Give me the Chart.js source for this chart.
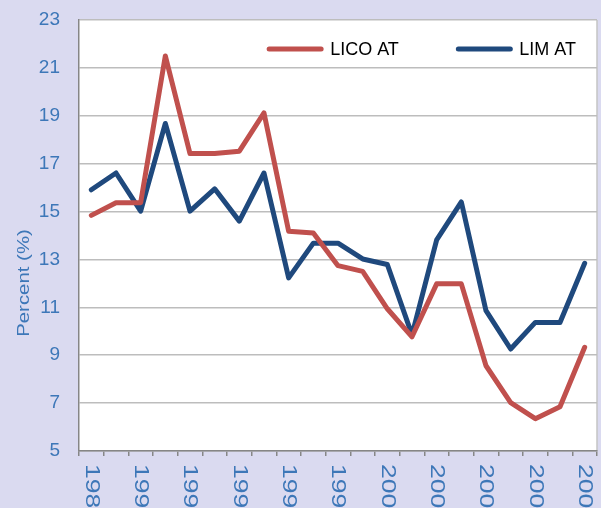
<!DOCTYPE html>
<html>
<head>
<meta charset="utf-8">
<script src="https://cdn.jsdelivr.net/npm/chart.js@4/dist/chart.umd.min.js"></script>
<style>
  html, body { margin: 0; padding: 0; background: #dadaf0; }
  #wrap { width: 601px; height: 508px; }
</style>
</head>
<body>
<div id="wrap"><canvas id="chart" width="601" height="508"></canvas></div>
<script>
// values
var years = ['1989', '1990', '1991', '1992', '1993', '1994', '1995', '1996', '1997', '1998', '1999',
             '2000', '2001', '2002', '2003', '2004', '2005', '2006', '2007', '2008', '2009'];
var licoAT = [14.84, 15.37, 15.37, 21.5, 17.42, 17.42, 17.52, 19.12, 14.18, 14.1, 12.74,
              12.5, 10.94, 9.77, 11.98, 11.98, 8.56, 7.02, 6.35, 6.85, 9.33];
var limAT = [15.91, 16.61, 15.02, 18.68, 15.02, 15.95, 14.6, 16.61, 12.23, 13.68, 13.68,
             13.02, 12.79, 9.85, 13.82, 15.4, 10.86, 9.26, 10.37, 10.37, 12.84];
var yTicks = [5, 7, 9, 11, 13, 15, 17, 19, 21, 23];
var yTitle = 'Percent (%)';

var FONT = '"Liberation Sans", Arial, sans-serif';
var TEXT_BLUE = '#3d77b8';

// plot background, rotated year labels, axis title and the legend row
var extras = {
    id: 'extras',
    beforeDraw: function (chart) {
        var a = chart.chartArea, ctx = chart.ctx;
        ctx.save();
        ctx.fillStyle = '#ffffff';
        ctx.fillRect(a.left, a.top, a.right - a.left, a.bottom - a.top);
        ctx.strokeStyle = '#c4c4c4';
        ctx.lineWidth = 1.5;
        ctx.beginPath();
        ctx.moveTo(a.right, a.top);
        ctx.lineTo(a.right, a.bottom);
        ctx.stroke();
        ctx.restore();
    },
    afterDraw: function (chart) {
        var ctx = chart.ctx, a = chart.chartArea;
        var xs = chart.scales.x;
        ctx.save();

        // year labels, every other one, reading top to bottom
        // (the rotated text in the original is drawn a bit stretched)
        ctx.fillStyle = TEXT_BLUE;
        ctx.font = '21px ' + FONT;
        ctx.textAlign = 'left';
        ctx.textBaseline = 'middle';
        for (var i = 0; i < years.length; i += 2) {
            ctx.save();
            ctx.translate(xs.getPixelForTick(i), a.bottom + 13);
            ctx.rotate(Math.PI / 2);
            ctx.scale(1.26, 1);
            ctx.fillText(years[i], 0, 0);
            ctx.restore();
        }

        // y axis title
        ctx.save();
        ctx.translate(24, 283);
        ctx.rotate(-Math.PI / 2);
        ctx.scale(1.2, 1);
        ctx.textAlign = 'center';
        ctx.font = '17px ' + FONT;
        ctx.fillText(yTitle, 0, 0);
        ctx.restore();

        // legend, right aligned inside the plot
        ctx.font = '18px ' + FONT;
        ctx.textBaseline = 'middle';
        var ly = a.top + 29;
        var end = a.right - 21;
        var ds = chart.data.datasets;
        for (var j = ds.length - 1; j >= 0; j--) {
            var w = ctx.measureText(ds[j].label).width;
            var tx = end - w;
            ctx.fillStyle = '#000000';
            ctx.fillText(ds[j].label, tx, ly + 1);
            ctx.strokeStyle = ds[j].borderColor;
            ctx.lineWidth = 5;
            ctx.lineCap = 'round';
            ctx.beginPath();
            ctx.moveTo(tx - 61, ly);
            ctx.lineTo(tx - 9, ly);
            ctx.stroke();
            end = tx - 63.5 - 57;
        }
        ctx.restore();
    }
};

new Chart(document.getElementById('chart'), {
    type: 'line',
    data: {
        labels: years,
        datasets: [{
            label: 'LICO AT',
            data: licoAT,
            borderColor: '#c0504d',
            backgroundColor: '#c0504d',
            borderWidth: 5,
            borderJoinStyle: 'round',
            borderCapStyle: 'round',
            pointRadius: 0,
            tension: 0
        }, {
            label: 'LIM AT',
            data: limAT,
            borderColor: '#1f497d',
            backgroundColor: '#1f497d',
            borderWidth: 5,
            borderJoinStyle: 'round',
            borderCapStyle: 'round',
            pointRadius: 0,
            tension: 0
        }]
    },
    options: {
        responsive: false,
        animation: false,
        layout: { autoPadding: false, padding: { top: 20, right: 4, left: 0, bottom: 0 } },
        plugins: {
            legend: { display: false },
            tooltip: { enabled: false }
        },
        scales: {
            x: {
                offset: true,
                afterFit: function (scale) {
                    scale.height = 57;
                    scale.paddingLeft = 0;
                    scale.paddingRight = 0;
                },
                grid: {
                    offset: true,
                    drawOnChartArea: false,
                    drawTicks: true,
                    tickLength: 5,
                    color: '#868686',
                    lineWidth: 1.5
                },
                border: { color: '#868686', width: 1.5 },
                ticks: { display: false }
            },
            y: {
                min: 5,
                max: 23,
                afterFit: function (scale) {
                    scale.width = 79;
                    // the top label may hang over the plot edge, as in the original
                    scale.paddingTop = 0;
                    scale.paddingBottom = 0;
                },
                afterBuildTicks: function (scale) {
                    scale.ticks = yTicks.map(function (v) { return { value: v }; });
                },
                grid: { color: '#bdbdbd', lineWidth: 1.5, drawTicks: false },
                border: { color: '#868686', width: 1.5 },
                ticks: {
                    color: TEXT_BLUE,
                    padding: 19,
                    font: { size: 19, family: FONT }
                }
            }
        }
    },
    plugins: [extras]
});
</script>
</body>
</html>
